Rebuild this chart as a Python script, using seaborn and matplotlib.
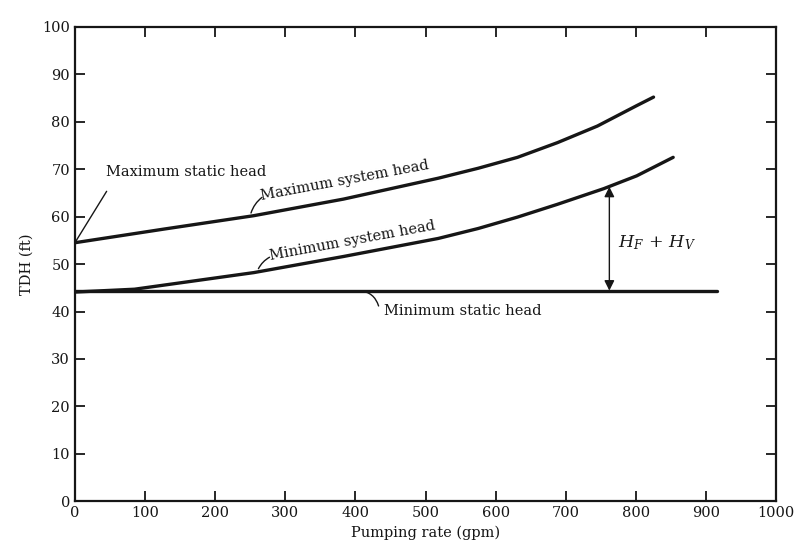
import numpy as np
import pandas as pd
import matplotlib.pyplot as plt
import seaborn as sns

# Curves (pumping rate in gpm, head in ft)
max_sys_q = [0, 128, 255, 383, 518, 575, 631, 688, 745, 801, 825]
max_sys_h = [54.5, 57.4, 60.2, 63.7, 68.1, 70.2, 72.5, 75.6, 79.1, 83.4, 85.2]

min_sys_q = [0, 85, 255, 383, 518, 575, 631, 688, 754, 801, 853]
min_sys_h = [44.1, 44.7, 48.2, 51.6, 55.4, 57.5, 59.9, 62.6, 65.9, 68.6, 72.5]

min_static_q = [0, 915]
min_static_h = [44.4, 44.4]

arrow_q = 762
arrow_top = 66.3
x_ticks = list(range(0, 1001, 100))
y_ticks = list(range(0, 101, 10))

sns.set_theme(style="ticks")
plt.rcParams["font.family"] = ["DejaVu Serif"]
plt.rcParams["mathtext.fontset"] = "dejavuserif"

fig = plt.figure(figsize=(7.97, 5.49), dpi=100)
ax = fig.add_axes([0.094, 0.087, 0.880, 0.864])

ink = "#161616"
for q, h in [(max_sys_q, max_sys_h), (min_sys_q, min_sys_h), (min_static_q, min_static_h)]:
    sns.lineplot(x=q, y=h, ax=ax, color=ink, linewidth=2.4, sort=False, estimator=None)

ax.set_xlim(0, 1000)
ax.set_ylim(0, 100)
ax.set_xticks(x_ticks)
ax.set_yticks(y_ticks)
ax.tick_params(direction="in", length=7, width=1.3, top=True, right=True,
               labeltop=False, labelright=False, labelsize=10.5, colors=ink)
for s in ax.spines.values():
    s.set_linewidth(1.6)
    s.set_color(ink)
ax.set_xlabel("Pumping rate (gpm)", fontsize=10.5, color=ink)
ax.set_ylabel("TDH (ft)", fontsize=10.5, color=ink, labelpad=6)

# annotations
ax.annotate("Maximum static head", xy=(0, max_sys_h[0]), xytext=(45, 69.5),
            fontsize=10.5, color=ink, va="center", ha="left",
            arrowprops=dict(arrowstyle="-", color=ink, lw=1.0, shrinkA=8, shrinkB=0,
                            relpos=(0.05, 0.0)))
ax.text(384, 67.6, "Maximum system head", fontsize=10.5, color=ink, rotation=10.5,
        ha="center", va="center", rotation_mode="anchor")
ax.annotate("", xy=(250, 60.2), xytext=(270, 64.4),
            arrowprops=dict(arrowstyle="-", color=ink, lw=1.0, connectionstyle="arc3,rad=0.2"))
ax.text(396, 55.0, "Minimum system head", fontsize=10.5, color=ink, rotation=10.5,
        ha="center", va="center", rotation_mode="anchor")
ax.annotate("", xy=(260, 48.5), xytext=(281, 51.7),
            arrowprops=dict(arrowstyle="-", color=ink, lw=1.0, connectionstyle="arc3,rad=0.2"))
ax.text(440, 40.2, "Minimum static head", fontsize=10.5, color=ink, ha="left", va="center")
ax.annotate("", xy=(402, 44.4), xytext=(434, 40.6),
            arrowprops=dict(arrowstyle="-", color=ink, lw=1.0, connectionstyle="arc3,rad=0.4"))

ax.annotate("", xy=(arrow_q, arrow_top), xytext=(arrow_q, min_static_h[0]),
            arrowprops=dict(arrowstyle="<|-|>", color=ink, lw=1.0, mutation_scale=15,
                            shrinkA=0, shrinkB=0))
ax.text(arrow_q + 12, 54.5, r"$H_F\,+\,H_V$", fontsize=12.5, color=ink, ha="left", va="center")

fig.savefig("out.png", dpi=100, facecolor="white")
